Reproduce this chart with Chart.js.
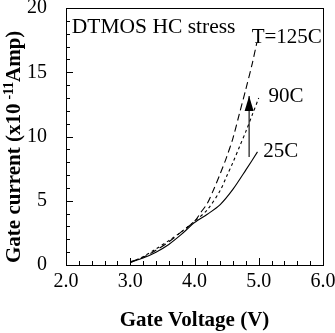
<!DOCTYPE html>
<html>
<head>
<meta charset="utf-8">
<script src="https://cdn.jsdelivr.net/npm/chart.js@4"></script>
<style>
  html, body { margin: 0; padding: 0; background: #fff; }
  canvas { display: block; }
</style>
</head>
<body>
<canvas id="chart" width="335" height="333"></canvas>
<script>
// gate current vs gate voltage, three temperatures
var voltage25 = [3.0, 3.2, 3.4, 3.6, 3.8, 4.0, 4.2, 4.4, 4.6, 4.8, 4.98];
var current25 = [0.25, 0.55, 1.0, 1.6, 2.4, 3.3, 3.95, 4.7, 5.9, 7.4, 8.8];

var voltage90 = [3.0, 3.2, 3.4, 3.6, 3.8, 4.0, 4.2, 4.4, 4.5, 4.6, 4.7, 4.8, 4.9, 5.0];
var current90 = [0.2, 0.65, 1.25, 1.9, 2.6, 3.4, 4.3, 5.8, 6.9, 8.0, 9.2, 10.4, 11.7, 13.0];

var voltage125 = [3.0, 3.2, 3.4, 3.6, 3.8, 4.0, 4.1, 4.2, 4.3, 4.4, 4.5, 4.6, 4.7, 4.8, 4.9, 4.97];
var current125 = [0.2, 0.6, 1.15, 1.8, 2.6, 3.4, 4.1, 4.8, 5.9, 7.1, 8.4, 9.9, 11.8, 13.7, 15.7, 17.3];

// arrow (increasing T)
var arrowX = [4.85, 4.85];
var arrowY = [8.4, 13.15];

// ticks
var xTicks = [2, 3, 4, 5, 6];
var yTicks = [0, 5, 10, 15, 20];

// text on the plot, in data units
var labelText = ["DTMOS HC stress", "T=125C", "90C", "25C"];
var labelX = [2.09, 4.89, 5.15, 5.07];
var labelY = [18.05, 17.3, 12.7, 8.4];

function points(xs, ys) {
  return xs.map(function (x, i) { return { x: x, y: ys[i] }; });
}

var serif = "'Liberation Serif', 'Times New Roman', serif";

var framePlugin = {
  id: "frame",
  afterDraw: function (chart) {
    var ctx = chart.ctx;
    var a = chart.chartArea;
    var xs = chart.scales.x;
    var ys = chart.scales.y;
    ctx.save();
    ctx.strokeStyle = "#000";
    ctx.lineWidth = 1;
    ctx.strokeRect(Math.round(a.left) + 0.5, Math.round(a.top) + 0.5,
      Math.round(a.right - a.left), Math.round(a.bottom - a.top));

    // inward ticks, minor and major
    ctx.beginPath();
    for (var i = 0; i <= 20; i++) {
      var px = Math.round(xs.getPixelForValue(2 + i * 0.2)) + 0.5;
      var len = i % 5 === 0 ? 7 : 4;
      ctx.moveTo(px, a.bottom);
      ctx.lineTo(px, a.bottom - len);
    }
    for (var j = 0; j <= 20; j++) {
      var py = Math.round(ys.getPixelForValue(j)) + 0.5;
      var len2 = j % 5 === 0 ? 7 : 4;
      ctx.moveTo(a.left, py);
      ctx.lineTo(a.left + len2, py);
    }
    ctx.stroke();

    // arrow head
    var ax = xs.getPixelForValue(arrowX[1]);
    var ay = ys.getPixelForValue(arrowY[1]);
    ctx.fillStyle = "#000";
    ctx.beginPath();
    ctx.moveTo(ax, ay);
    ctx.lineTo(ax - 4.5, ay + 15);
    ctx.lineTo(ax + 4.5, ay + 15);
    ctx.closePath();
    ctx.fill();

    // labels
    ctx.textBaseline = "alphabetic";
    ctx.textAlign = "left";
    labelText.forEach(function (t, k) {
      ctx.font = (k === 0 ? "21.5px " : "21px ") + serif;
      ctx.fillText(t, xs.getPixelForValue(labelX[k]), ys.getPixelForValue(labelY[k]));
    });

    // y axis title with superscript
    ctx.translate(20, 146);
    ctx.rotate(-Math.PI / 2);
    ctx.font = "bold 21px " + serif;
    var main = "Gate current (x10";
    var x0 = -117;
    ctx.fillText(main, x0, 0);
    var w = ctx.measureText(main).width;
    ctx.font = "bold 14px " + serif;
    ctx.fillText("-11", x0 + w + 4, -7);
    ctx.font = "bold 21px " + serif;
    ctx.fillText("Amp)", 64, 0);
    ctx.restore();
  }
};

var ctx = document.getElementById("chart");

var GateChart = new Chart(ctx, {
  type: "line",
  data: {
    datasets: [
      {
        label: "25C",
        data: points(voltage25, current25),
        borderColor: "#000",
        borderWidth: 1.1,
        pointRadius: 0,
        tension: 0.3,
      },
      {
        label: "90C",
        data: points(voltage90, current90),
        borderColor: "#000",
        borderWidth: 1.1,
        borderDash: [3, 3],
        pointRadius: 0,
        tension: 0.3,
      },
      {
        label: "125C",
        data: points(voltage125, current125),
        borderColor: "#000",
        borderWidth: 1.1,
        borderDash: [7, 4],
        pointRadius: 0,
        tension: 0.3,
      },
      {
        label: "arrow",
        data: points(arrowX, arrowY),
        borderColor: "#000",
        borderWidth: 1.1,
        pointRadius: 0,
      },
    ],
  },
  options: {
    responsive: false,
    animation: false,
    layout: { padding: { left: 0, top: 8, right: 12, bottom: 0 } },
    plugins: {
      legend: { display: false },
      tooltip: { enabled: false },
    },
    scales: {
      x: {
        type: "linear",
        min: 2,
        max: 6,
        grid: { display: false },
        border: { display: false },
        afterBuildTicks: function (scale) {
          scale.ticks = xTicks.map(function (v) { return { value: v }; });
        },
        afterFit: function (scale) {
          scale.height = 68;
          scale.paddingLeft = 0;
          scale.paddingRight = 0;
        },
        ticks: {
          color: "#000",
          padding: -3,
          maxRotation: 0,
          font: { family: serif, size: 20 },
          callback: function (v) { return v.toFixed(1); },
        },
        title: {
          display: true,
          text: "Gate Voltage (V)",
          color: "#000",
          font: { family: serif, size: 21, weight: "bold" },
          padding: { top: 0, bottom: 0 },
        },
      },
      y: {
        min: 0,
        max: 20,
        grid: { display: false },
        border: { display: false },
        afterBuildTicks: function (scale) {
          scale.ticks = yTicks.map(function (v) { return { value: v }; });
        },
        afterFit: function (scale) {
          scale.width = 66;
          scale.paddingTop = 0;
          scale.paddingBottom = 0;
        },
        ticks: {
          color: "#000",
          padding: 11,
          font: { family: serif, size: 20 },
        },
      },
    },
  },
  plugins: [framePlugin],
});
</script>
</body>
</html>
